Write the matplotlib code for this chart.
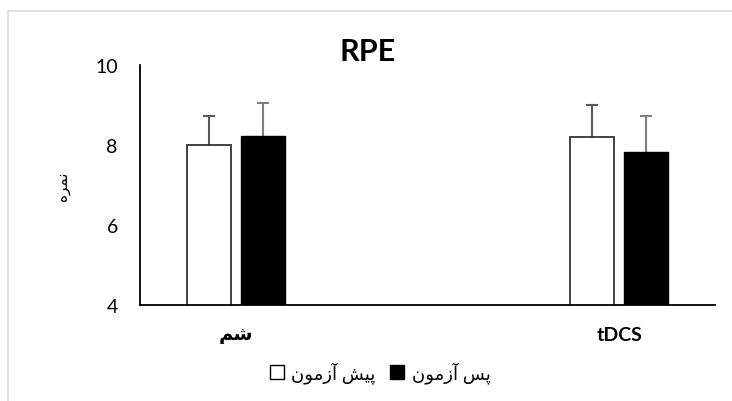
import matplotlib.pyplot as plt
import numpy as np
from matplotlib.patches import Patch, Rectangle

plt.rcParams['font.family'] = ['Lato', 'DejaVu Sans']

# Persian text written as presentation forms in visual order (no shaping in matplotlib)
lbl_sham = "\uFEE2\uFEB7"                                   # شم
lbl_score = "\uFEE9\uFEAE\uFEE4\uFEE7"                      # نمره
lbl_pre = "\uFEE5\uFEEE\uFEE3\uFEAF\uFE81 \uFEB6\uFBFF\uFB58"  # پیش آزمون
lbl_post = "\uFEE5\uFEEE\uFEE3\uFEAF\uFE81 \uFEB2\uFB58"       # پس آزمون

categories = [lbl_sham, "", "tDCS"]
pre_mean = np.array([8.0, np.nan, 8.21])
pre_sd = np.array([0.72, np.nan, 0.79])
post_mean = np.array([8.22, np.nan, 7.83])
post_sd = np.array([0.82, np.nan, 0.90])

fig = plt.figure(figsize=(7.32, 4.02), dpi=100)
ax = fig.add_axes([140/732, 1-306/402, 575/732, 240/402])

x = np.arange(len(categories))
w = 0.23
off = 0.141

# upper-only error bars (no cap at the bar top)
for xs, m, sd, col in [(x - off, pre_mean, pre_sd, '#595959'), (x + off, post_mean, post_sd, '#7f7f7f')]:
    ax.vlines(xs, m, m + sd, color=col, linewidth=1.5, zorder=1)
    ax.plot(xs, m + sd, linestyle='none', marker='_', markersize=9, markeredgewidth=1.5, color=col, zorder=1)

ax.bar(x - off, pre_mean, w, color='white', edgecolor='#333333', linewidth=1.3, zorder=2)
ax.bar(x + off, post_mean, w, color='black', edgecolor='black', linewidth=1.0, zorder=2)

ax.set_xlim(-0.5, 2.5)
ax.set_ylim(4, 10)
ax.set_yticks([4, 6, 8, 10])
ax.tick_params(axis='y', length=0, labelsize=14, pad=16)
ax.set_xticks(x)
ax.set_xticklabels(categories, fontsize=14, fontweight='bold')
ax.tick_params(axis='x', length=0, pad=15)
for s in ['top', 'right']:
    ax.spines[s].set_visible(False)
ax.spines['left'].set_linewidth(1.3)
ax.spines['bottom'].set_linewidth(1.3)
ax.spines['bottom'].set_zorder(3)

ax.set_title("RPE", fontsize=22, fontweight='bold', pad=0, x=0.395)
ax.set_ylabel(lbl_score, fontsize=11, labelpad=18)

handles = [Patch(facecolor='white', edgecolor='black', label=lbl_pre),
           Patch(facecolor='black', edgecolor='black', label=lbl_post)]
fig.legend(handles=handles, loc='center', bbox_to_anchor=(380/732, 1-373/402), ncol=2,
           frameon=False, fontsize=13, handlelength=0.8, handleheight=0.8,
           handletextpad=0.4, columnspacing=0.8)

fig.patches.append(Rectangle((8/732, -0.1), 1.2, 1-12/402+0.1, transform=fig.transFigure,
                             fill=False, edgecolor='#d9d9d9', linewidth=1.2))

fig.savefig("out.png", dpi=100)
